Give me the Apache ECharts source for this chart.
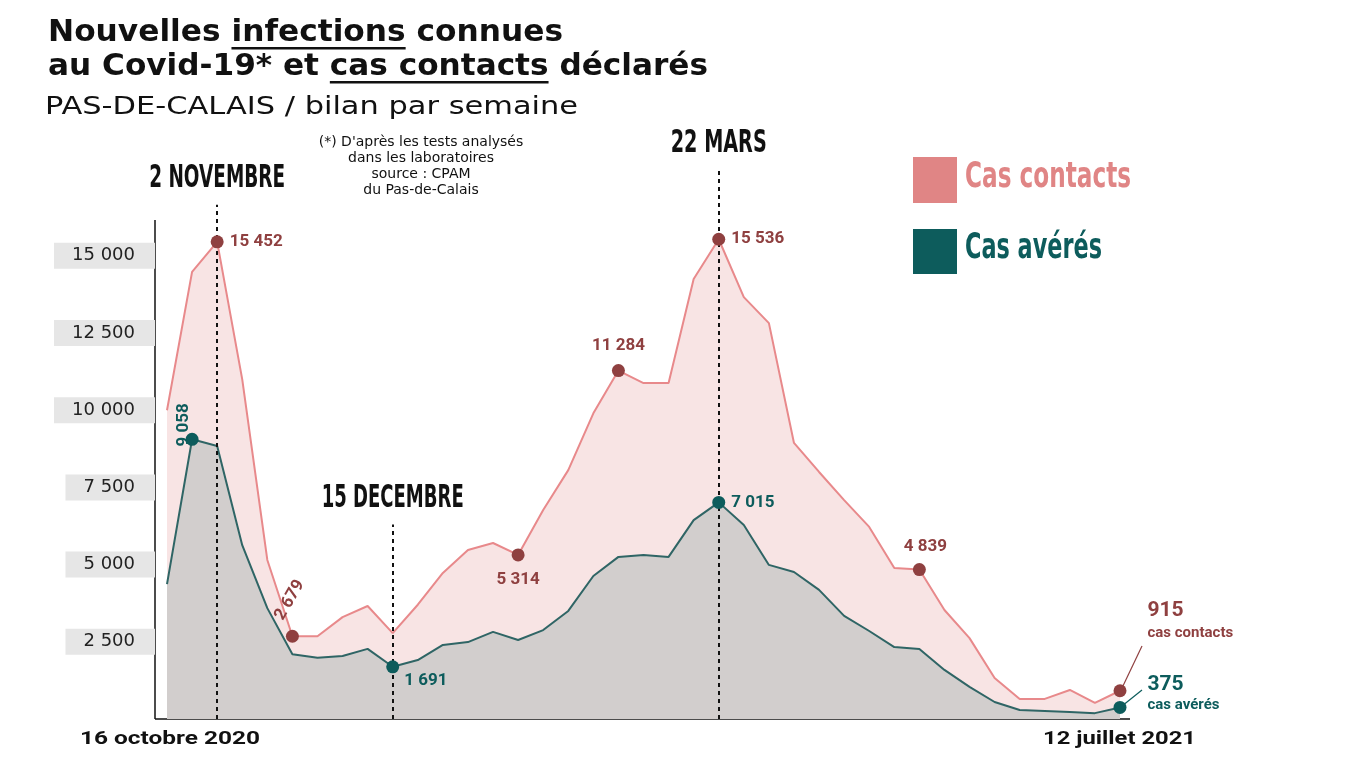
<!DOCTYPE html>
<html><head><meta charset="utf-8">
<script src="https://cdn.jsdelivr.net/npm/echarts@6/dist/echarts.min.js"></script>
<style>html,body{margin:0;padding:0;background:#fff}#c{width:1350px;height:759px}</style>
</head><body><div id="c"></div>
<script>
const categories = ["16 octobre 2020","","2 novembre","","","","","","","15 décembre","","","","","","","","","","","","","22 mars","","","","","","","","","","","","","","","","12 juillet 2021"];
const casContacts = [10000,14480,15452,11000,5150,2679,2680,3300,3660,2780,3700,4730,5470,5700,5314,6770,8060,9900,11284,10880,10880,14250,15536,13660,12820,8940,8000,7090,6220,4890,4839,3530,2620,1330,650,650,940,520,915];
const casAveres = [4370,9058,8840,5630,3590,2100,1980,2040,2270,1691,1910,2400,2490,2820,2560,2880,3500,4630,5250,5310,5250,6440,7015,6280,4990,4760,4180,3340,2850,2330,2270,1590,1040,550,290,260,230,190,375];
const yTicks = [2500,5000,7500,10000,12500,15000];
const contactMarks = [2,5,14,18,22,30,38];
const avereMarks = [1,9,22,38];
const dateMarks = [[2,16650,"2 NOVEMBRE"],[9,6300,"15 DECEMBRE"],[22,17800,"22 MARS"]];

const fmt = v => String(v).replace(/\B(?=(\d{3})+(?!\d))/g,' ');
const RED='#8f4040', GRN='#0d5c5c';
const cv = document.createElement('canvas').getContext('2d');
function tw(text, font){ cv.font = font; return cv.measureText(text).width; }
const TF = 'bold 30px "DejaVu Sans"';
const CF = 'bold 36px "DejaVu Sans"';
const contactLbl = {
 2:{position:'right',distance:6},
 5:{position:'top',rotate:60,offset:[20,-6]},
 14:{position:'bottom',distance:10},
 18:{position:'top',distance:10},
 22:{position:'right',distance:6},
 30:{position:'top',distance:8,offset:[6,0]},
 38:{position:'right',offset:[16,-70],formatter:'{a|915}\n{b|cas contacts}',rich:{a:{fontSize:21,fontWeight:'bold',color:RED,fontFamily:'Roboto'},b:{fontSize:15,color:RED,fontFamily:'Roboto',padding:[4,0,0,0]}}}
};
const avereLbl = {
 1:{position:'top',rotate:90,distance:8},
 9:{position:'right',offset:[0,14]},
 22:{position:'right',distance:6},
 38:{position:'right',offset:[16,-14],formatter:'{a|375}\n{b|cas avérés}',rich:{a:{fontSize:21,fontWeight:'bold',color:GRN,fontFamily:'Roboto'},b:{fontSize:15,color:GRN,fontFamily:'Roboto',padding:[2,0,0,0]}}}
};
function pts(arr, idx, lbls, color){
  return idx.map(i=>({value:[i,arr[i]],label:Object.assign({show:true,color:color,fontWeight:'bold',fontSize:17,fontFamily:'Roboto',formatter:p=>fmt(p.value[1])},lbls[i])}));
}
function fitText(x,y,text,font,target,fill,align){
  const w = tw(text,font); const s = target/w;
  return {type:'text',x:x,y:y,scaleX:s,originX:0,style:{text:text,font:font,fill:fill,align:align||'left'}};
}
const L1='Nouvelles infections connues', L2='au Covid-19* et cas contacts déclarés';
const s1 = 515/tw(L1,TF), s2 = 660/tw(L2,TF);
const u1x = 48 + tw('Nouvelles ',TF)*s1, u1w = tw('infections',TF)*s1;
const u2x = 48 + tw('au Covid-19* et ',TF)*s2, u2w = tw('cas contacts',TF)*s2;
const chart = echarts.init(document.getElementById('c'));
const graphics = [
  {type:'line',shape:{x1:155,y1:220,x2:155,y2:719},style:{stroke:'#111',lineWidth:1.5}},
  {type:'line',shape:{x1:155,y1:719,x2:1130,y2:719},style:{stroke:'#111',lineWidth:1.5}},
  {type:'line',shape:{x1:170,y1:697,x2:170,y2:719},style:{stroke:'#111',lineWidth:2.5}},
  fitText(48,18,L1,TF,515,'#111'),
  fitText(48,52,L2,TF,660,'#111'),
  {type:'rect',shape:{x:u1x,y:47,width:u1w,height:2.5},style:{fill:'#111'}},
  {type:'rect',shape:{x:u2x,y:81,width:u2w,height:2.5},style:{fill:'#111'}},
  fitText(45,95,'PAS-DE-CALAIS / bilan par semaine','25px "DejaVu Sans"',533,'#111'),
  {type:'text',x:421,y:134,style:{text:"(*) D'après les tests analysés\ndans les laboratoires\nsource : CPAM\ndu Pas-de-Calais",font:'500 14px "DejaVu Sans"',lineHeight:16,align:'center',fill:'#111'}},
  {type:'rect',shape:{x:913,y:157,width:44,height:46},style:{fill:'#e08585'}},
  fitText(965,160,'Cas contacts',CF,166,'#e08585'),
  {type:'rect',shape:{x:913,y:229,width:44,height:45},style:{fill:GRN}},
  fitText(965,231,'Cas avérés',CF,137,GRN),
  fitText(80,730,'16 octobre 2020','bold 19px Roboto',180,'#111'),
  fitText(1043,730,'12 juillet 2021','bold 19px Roboto',153,'#111'),
  {type:'line',shape:{x1:1122,y1:688,x2:1142,y2:646},style:{stroke:RED,lineWidth:1.2}},
  {type:'line',shape:{x1:1122,y1:706,x2:1142,y2:690},style:{stroke:GRN,lineWidth:1.2}}
];
chart.setOption({
 animation:false,
 grid:{left:167,right:230,top:140,bottom:40},
 xAxis:{type:'category',data:categories,boundaryGap:false,
   axisLine:{show:false},axisTick:{show:false},axisLabel:{show:false}},
 yAxis:{type:'value',min:0,max:18750,interval:2500,offset:12,splitLine:{show:false},
   axisLine:{show:false},axisTick:{show:false},
   axisLabel:{customValues:yTicks,margin:0,padding:[4,20,4,18],backgroundColor:'#e6e6e6',color:'#222',fontSize:18,fontFamily:'"DejaVu Sans"',
     formatter:v=>fmt(v)}},
 graphic:graphics,
 series:[
  {type:'line',data:casContacts,symbol:'none',lineStyle:{color:'#e8898b',width:2},areaStyle:{color:'#f8e4e4',opacity:1},z:1,
   markLine:{silent:true,symbol:'none',lineStyle:{color:'#111',type:[4,4],width:2},label:{show:false},
     data:dateMarks.map(d=>[{coord:[d[0],0]},{coord:[d[0],d[1]]}])}},
  {type:'line',data:casAveres,symbol:'none',lineStyle:{color:'#2f6565',width:2},areaStyle:{color:'#d2cecd',opacity:1},z:2},
  {type:'scatter',data:pts(casContacts,contactMarks,contactLbl,RED),symbolSize:13,itemStyle:{color:RED,opacity:1},z:5},
  {type:'scatter',data:pts(casAveres,avereMarks,avereLbl,GRN),symbolSize:13,itemStyle:{color:GRN,opacity:1},z:5}
 ]
});
const widths = {"2 NOVEMBRE":136,"15 DECEMBRE":142,"22 MARS":96};
dateMarks.forEach(d=>{
  const p = chart.convertToPixel({xAxisIndex:0,yAxisIndex:0},[d[0],d[1]]);
  const g = fitText(0,p[1]-42,d[2],'bold 32px "DejaVu Sans"',widths[d[2]],'#111');
  g.x = p[0]-widths[d[2]]/2;
  graphics.push(g);
});
chart.setOption({graphic:graphics});
</script></body></html>
